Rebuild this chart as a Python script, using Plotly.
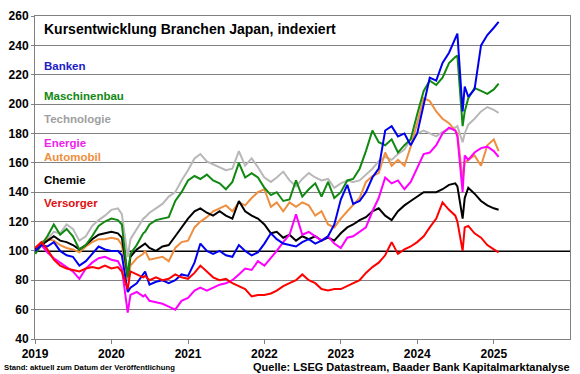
import plotly.graph_objects as go

dates = [
    "2019-01-02", "2019-02-01", "2019-03-01", "2019-04-01", "2019-05-01", "2019-06-01",
    "2019-07-01", "2019-08-01", "2019-09-01", "2019-10-01", "2019-11-01", "2019-12-01",
    "2020-01-01", "2020-02-01", "2020-02-20", "2020-03-19", "2020-04-01", "2020-05-01",
    "2020-06-01", "2020-06-10", "2020-07-01", "2020-08-01", "2020-09-01", "2020-10-01",
    "2020-11-01", "2020-12-01",
    "2021-01-01", "2021-02-01", "2021-03-01", "2021-04-01", "2021-05-01", "2021-06-01",
    "2021-07-01", "2021-08-01", "2021-09-01", "2021-10-01", "2021-11-01", "2021-12-01",
    "2022-01-01", "2022-02-01", "2022-03-01", "2022-04-01", "2022-05-01", "2022-06-01",
    "2022-07-01", "2022-08-01", "2022-09-01", "2022-10-01", "2022-11-01", "2022-12-01",
    "2023-01-01", "2023-02-01", "2023-03-01", "2023-04-01", "2023-05-01", "2023-06-01",
    "2023-07-01", "2023-08-01", "2023-09-01", "2023-10-01", "2023-11-01", "2023-12-01",
    "2024-01-01", "2024-02-01", "2024-03-01", "2024-04-01", "2024-05-01", "2024-06-01",
    "2024-07-01", "2024-07-11", "2024-08-05", "2024-08-15", "2024-09-01", "2024-10-01",
    "2024-11-01", "2024-12-01", "2025-01-01", "2025-01-24",
]

banken = [
    100, 104, 103, 106, 100, 97, 96, 90, 93, 98, 103, 101,
    100, 100, 97, 72, 75, 78, 84, 86, 77, 79, 80, 78, 80, 84,
    83, 92, 105, 100, 98, 100, 97, 96, 104, 100, 97, 99,
    105, 112, 108, 105, 104, 103, 106, 108, 105, 107, 110, 118,
    135, 145, 132, 134, 140, 150, 156, 182, 185, 178, 180, 172,
    180, 200, 218, 216, 228, 235, 244, 248, 195, 212, 205, 210,
    240, 247, 252, 256,
]
maschinenbau = [
    98, 104, 110, 118, 111, 115, 110, 101, 104, 110, 117, 120,
    122, 121, 118, 82, 98, 104, 112, 113, 118, 121, 122, 123, 134, 140,
    148, 151, 149, 152, 148, 146, 142, 147, 160, 150, 153, 150,
    143, 138, 140, 134, 135, 148, 137, 142, 146, 137, 147, 136,
    140, 148, 149, 156, 168, 182, 174, 172, 176, 167, 172, 176,
    193, 209, 216, 213, 218, 228, 232, 233, 185, 195, 204, 211,
    209, 207, 210, 214,
]
technologie = [
    100, 103, 108, 113, 112, 118, 115, 107, 110, 117, 121, 124,
    128, 129, 125, 96, 108, 115, 122, 123, 126, 129, 132, 137, 140, 148,
    155, 163, 166, 161, 159, 157, 155, 156, 168, 158, 163, 157,
    150, 147, 150, 154, 148, 144, 149, 153, 150, 148, 149, 143,
    146, 148, 147, 148, 152, 156, 161, 164, 162, 166, 169, 176,
    180, 182, 180, 178, 181, 183, 184, 185, 174, 180, 186, 190,
    195, 198, 196, 194,
]
energie = [
    100, 104, 99, 95, 92, 89, 86, 81, 88, 92, 95, 96,
    94, 93, 88, 58, 70, 72, 69, 70, 66, 65, 64, 62, 60, 66,
    68, 73, 75, 73, 75, 77, 78, 80, 84, 88, 87, 93,
    90, 95, 100, 106, 111, 125, 111, 113, 110, 107, 110, 105,
    102, 109, 110, 113, 116, 127, 136, 150, 146, 148, 142, 147,
    156, 166, 167, 172, 180, 184, 182, 178, 140, 165, 162, 167,
    170, 171, 168, 164,
]
automobil = [
    102, 106, 108, 107, 104, 102, 101, 99, 103, 106, 108, 108,
    109, 108, 104, 80, 90, 95, 98, 100, 94, 95, 96, 93, 102, 106,
    107, 116, 120, 123, 127, 129, 131, 127, 133, 131, 136, 140,
    142, 130, 133, 127, 133, 130, 133, 131, 124, 127, 118, 116,
    122, 127, 131, 136, 147, 151, 153, 167, 158, 162, 158, 171,
    187, 204, 202, 195, 190, 187, 182, 180, 149, 160, 162, 165,
    158, 172, 176, 168,
]
chemie = [
    101, 104, 107, 110, 107, 106, 104, 101, 104, 108, 111, 112,
    113, 112, 109, 83, 96, 101, 104, 105, 102, 100, 103, 104, 110, 116,
    122, 127, 129, 126, 124, 127, 124, 122, 134, 127, 124, 122,
    118, 112, 113, 109, 111, 107, 110, 108, 110, 107, 109, 107,
    112, 116, 118, 121, 123, 127, 129, 124, 121, 127, 131, 134,
    137, 140, 140, 140, 142, 145, 146, 144, 122, 136, 143, 139,
    134, 131, 129, 128,
]
versorger = [
    102, 106, 101, 94, 90, 88, 87, 86, 88, 89, 88, 90,
    88, 89, 86, 74, 86, 84, 82, 83, 80, 82, 80, 81, 84, 82,
    81, 85, 90, 86, 82, 80, 81, 78, 76, 74, 69, 70,
    70, 71, 73, 76, 78, 80, 84, 80, 78, 74, 73, 74,
    74, 76, 78, 80, 85, 89, 92, 97, 106, 98, 101, 103,
    106, 110, 116, 122, 133, 128, 124, 120, 100, 116, 117, 112,
    109, 104, 101, 99,
]

series_names = ["Banken", "Maschinenbau", "Technologie", "Energie", "Automobil", "Chemie", "Versorger"]
series_values = [banken, maschinenbau, technologie, energie, automobil, chemie, versorger]
series_colors = ["#0000EE", "#118811", "#B8B8B8", "#FF00FF", "#EF8E3E", "#000000", "#FF0000"]
label_colors = ["#2020C8", "#118811", "#A0A0A0", "#EE22EE", "#EF8E3E", "#000000", "#E01010"]
draw_order = ["Technologie", "Automobil", "Chemie", "Energie", "Maschinenbau", "Banken", "Versorger"]

label_y = [0.845, 0.751, 0.681, 0.608, 0.565, 0.492, 0.422]

year_ticks = ["2019-01-01", "2020-01-01", "2021-01-01", "2022-01-01", "2023-01-01", "2024-01-01", "2025-01-01"]
year_labels = ["2019", "2020", "2021", "2022", "2023", "2024", "2025"]

FONT = "Arial, Liberation Sans, sans-serif"

fig = go.Figure()
lookup = dict(zip(series_names, zip(series_values, series_colors)))
for name in draw_order:
    vals, col = lookup[name]
    fig.add_trace(go.Scatter(x=dates, y=vals, mode="lines", name=name,
                             line=dict(color=col, width=2), showlegend=False))

fig.add_shape(type="line", xref="paper", x0=0, x1=1, yref="y", y0=100, y1=100,
              line=dict(color="black", width=2), layer="between")

fig.add_annotation(text="<b>Kursentwicklung Branchen Japan, indexiert</b>", xref="paper", yref="paper",
                   x=0.013, y=0.9605, xanchor="left", yanchor="middle", showarrow=False,
                   font=dict(family=FONT, size=14, color="black"))
for name, col, yy in zip(series_names, label_colors, label_y):
    fig.add_annotation(text=f"<b>{name}</b>", xref="paper", yref="paper", x=0.013, y=yy,
                       xanchor="left", yanchor="middle", showarrow=False,
                       font=dict(family=FONT, size=11.5, color=col))

fig.add_annotation(text="<b>Stand: aktuell zum Datum der Veröffentlichung</b>", xref="paper", yref="paper",
                   x=-0.0615, y=-0.088, xanchor="left", yanchor="middle", showarrow=False,
                   font=dict(family=FONT, size=7.7, color="black"))
fig.add_annotation(text="<b>Quelle: LSEG Datastream, Baader Bank Kapitalmarktanalyse</b>", xref="paper", yref="paper",
                   x=1.0037, y=-0.088, xanchor="right", yanchor="middle", showarrow=False,
                   font=dict(family=FONT, size=11, color="black"))

fig.update_layout(
    width=580, height=374,
    margin=dict(l=33, r=9, t=10, b=35),
    paper_bgcolor="white", plot_bgcolor="white",
    font=dict(family=FONT, size=12, color="black"),
)
fig.update_xaxes(type="date", range=["2019-01-01", "2025-12-31"],
                 tickvals=year_ticks, ticktext=year_labels,
                 tickfont=dict(family=FONT, size=12, color="black", weight="bold"),
                 showgrid=False, showline=True, linecolor="#808080", linewidth=1, mirror=True,
                 ticks="outside", ticklen=4, tickcolor="#808080")
fig.update_yaxes(range=[40, 260], dtick=20, tick0=40,
                 tickfont=dict(family=FONT, size=12, color="black", weight="bold"),
                 showgrid=True, gridcolor="#808080", gridwidth=1,
                 showline=True, linecolor="#808080", linewidth=1, mirror=True,
                 ticks="outside", ticklen=3, tickcolor="#808080", zeroline=False)

fig.write_html("out.html", config={"displayModeBar": False},
               post_script="document.body.style.margin='0';document.body.style.padding='0';")
